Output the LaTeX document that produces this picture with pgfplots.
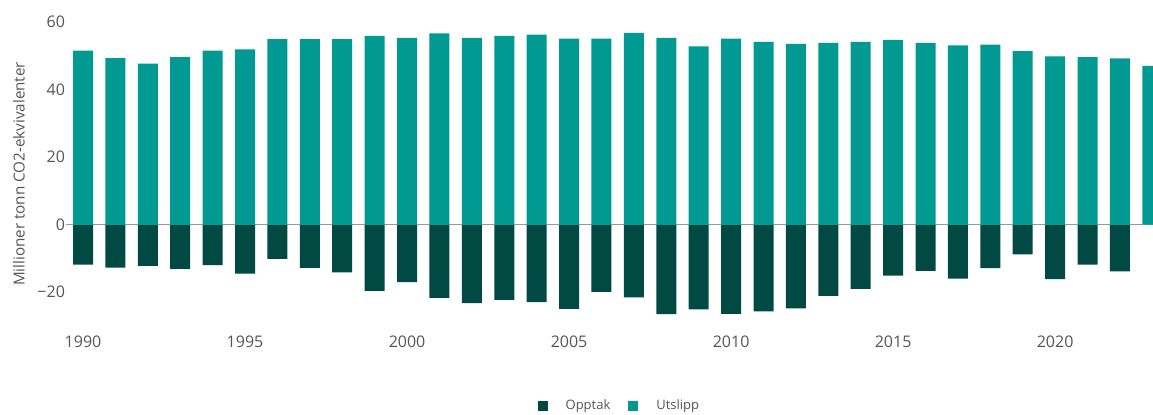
\documentclass[border=0pt]{standalone}
\usepackage{fontspec}
\setmainfont{Open Sans}
\usepackage{pgfplots}
\pgfplotsset{compat=1.18}
\usepackage{pgfplotstable}

\definecolor{utslipp}{HTML}{009A93}
\definecolor{opptak}{HTML}{004A43}
\definecolor{txt}{HTML}{555555}

% year, Utslipp, Opptak
\pgfplotstableread{
year utslipp opptak
1990 51.5 -11.8
1991 49.3 -12.7
1992 47.7 -12.2
1993 49.6 -13.1
1994 51.5 -12.0
1995 51.9 -14.5
1996 54.9 -10.1
1997 54.9 -12.8
1998 54.9 -14.1
1999 55.9 -19.6
2000 55.3 -17.0
2001 56.6 -21.7
2002 55.3 -23.2
2003 55.9 -22.3
2004 56.3 -22.9
2005 55.1 -24.9
2006 55.1 -19.9
2007 56.8 -21.5
2008 55.3 -26.5
2009 52.8 -25.1
2010 55.1 -26.4
2011 54.1 -25.7
2012 53.5 -24.8
2013 53.8 -21.1
2014 54.1 -19.0
2015 54.7 -15.1
2016 53.8 -13.7
2017 53.1 -16.0
2018 53.3 -12.9
2019 51.4 -8.8
2020 49.8 -16.1
2021 49.6 -11.8
2022 49.2 -13.8
2023 47.0 nan
}\co

\begin{document}
\begin{tikzpicture}[font=\fontsize{8pt}{9.6pt}\selectfont, text=txt]
  \begin{axis}[
      scale only axis,
      width=543.5pt, height=152pt,
      xmin=1989.475, xmax=2023.02,
      ymin=-30, ymax=60,
      ybar, bar width=10pt,
      axis line style={draw=none},
      tick style={draw=none},
      xtick={1990,1995,...,2020},
      ytick={-20,0,20,40,60},
      yticklabels={−20,0,20,40,60},
      xticklabel style={/pgf/number format/1000 sep={}, yshift=3pt},
      /pgf/number format/assume math mode=true,
      yticklabel style={xshift=3pt},
      extra y ticks={0},
      extra y tick labels={},
      extra y tick style={grid=major, grid style={color=black!40, line width=0.6pt}},
      ylabel={Millioner tonn CO2-ekvivalenter},
      ylabel style={font=\fontsize{7.6pt}{9pt}\selectfont, at={(axis description cs:-0.0433,0.5)}, anchor=center},
      legend columns=2,
      legend style={draw=none, fill=none, at={(0.51,-0.263)}, anchor=center,
        font=\fontsize{6.5pt}{7.5pt}\selectfont, column sep=7pt},
      legend image code/.code={\fill[#1] (-3pt,-2.5pt) rectangle (2pt,2.5pt);},
      clip=true,
    ]
    \addplot[fill=opptak, draw=none, bar shift=0pt] table[x=year, y=opptak] {\co};
    \addlegendentry{Opptak}
    \addplot[fill=utslipp, draw=none, bar shift=0pt] table[x=year, y=utslipp] {\co};
    \addlegendentry{Utslipp}
  \end{axis}
  \pgfresetboundingbox
  \path (-33pt,-44pt) rectangle (543.5pt,163pt);
\end{tikzpicture}
\end{document}
